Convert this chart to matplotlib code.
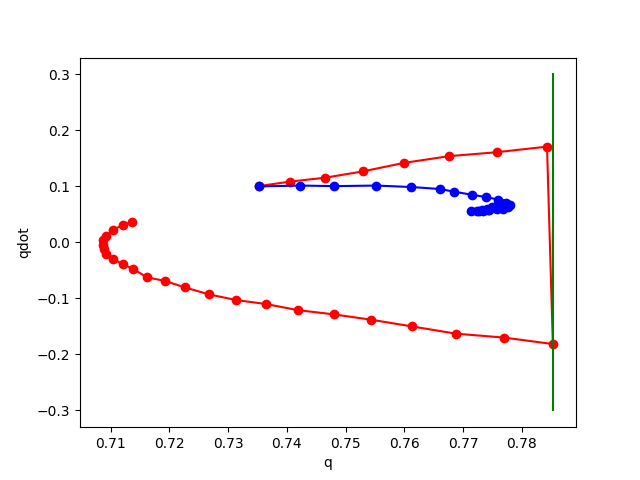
import numpy as np
import matplotlib
matplotlib.use("Agg")
import matplotlib.pyplot as plt

# red trajectory (q, qdot)
red_q = [0.7352, 0.7405, 0.7465, 0.7530, 0.7599, 0.7676, 0.7757, 0.7843,
         0.7853, 0.7770, 0.7688, 0.7613, 0.7543, 0.7480, 0.7419, 0.7364,
         0.7314, 0.7268, 0.7226, 0.7193, 0.7162, 0.7138, 0.7120, 0.7104,
         0.7092, 0.7088, 0.7086, 0.7087, 0.7092, 0.7104, 0.7120, 0.7137]
red_qdot = [0.1005, 0.1085, 0.1155, 0.1269, 0.1419, 0.1540, 0.1610, 0.1710,
            -0.1815, -0.1700, -0.1630, -0.1500, -0.1380, -0.1285, -0.1210, -0.1100,
            -0.1030, -0.0930, -0.0803, -0.0690, -0.0624, -0.0475, -0.0385, -0.0296,
            -0.0212, -0.0117, -0.0040, 0.0040, 0.0117, 0.0218, 0.0314, 0.0367]

# blue trajectory (q, qdot)
blue_q = [0.7353, 0.7423, 0.7481, 0.7552, 0.7612, 0.7661, 0.7685, 0.7715,
          0.7739, 0.7760, 0.7773, 0.7780, 0.7777, 0.7768, 0.7757, 0.7745,
          0.7734, 0.7724, 0.7714, 0.7728, 0.7742, 0.7755, 0.7762, 0.7765,
          0.7760, 0.7750, 0.7740, 0.7732]
blue_qdot = [0.1000, 0.1015, 0.1005, 0.1015, 0.0989, 0.0953, 0.0905, 0.0851,
             0.0810, 0.0765, 0.0705, 0.0667, 0.0630, 0.0605, 0.0590, 0.0580,
             0.0568, 0.0560, 0.0555, 0.0565, 0.0585, 0.0615, 0.0660, 0.0700,
             0.0680, 0.0640, 0.0600, 0.0575]

# vertical marker at q = pi/4
green_q = [np.pi / 4, np.pi / 4]
green_qdot = [-0.3, 0.3]

fig, ax = plt.subplots(figsize=(6.4, 4.8), dpi=100)
ax.plot(red_q, red_qdot, "ro-")
ax.plot(blue_q, blue_qdot, "bo-")
ax.plot(green_q, green_qdot, "g-")
ax.set_xlabel("q")
ax.set_ylabel("qdot")

plt.savefig("out.png")
